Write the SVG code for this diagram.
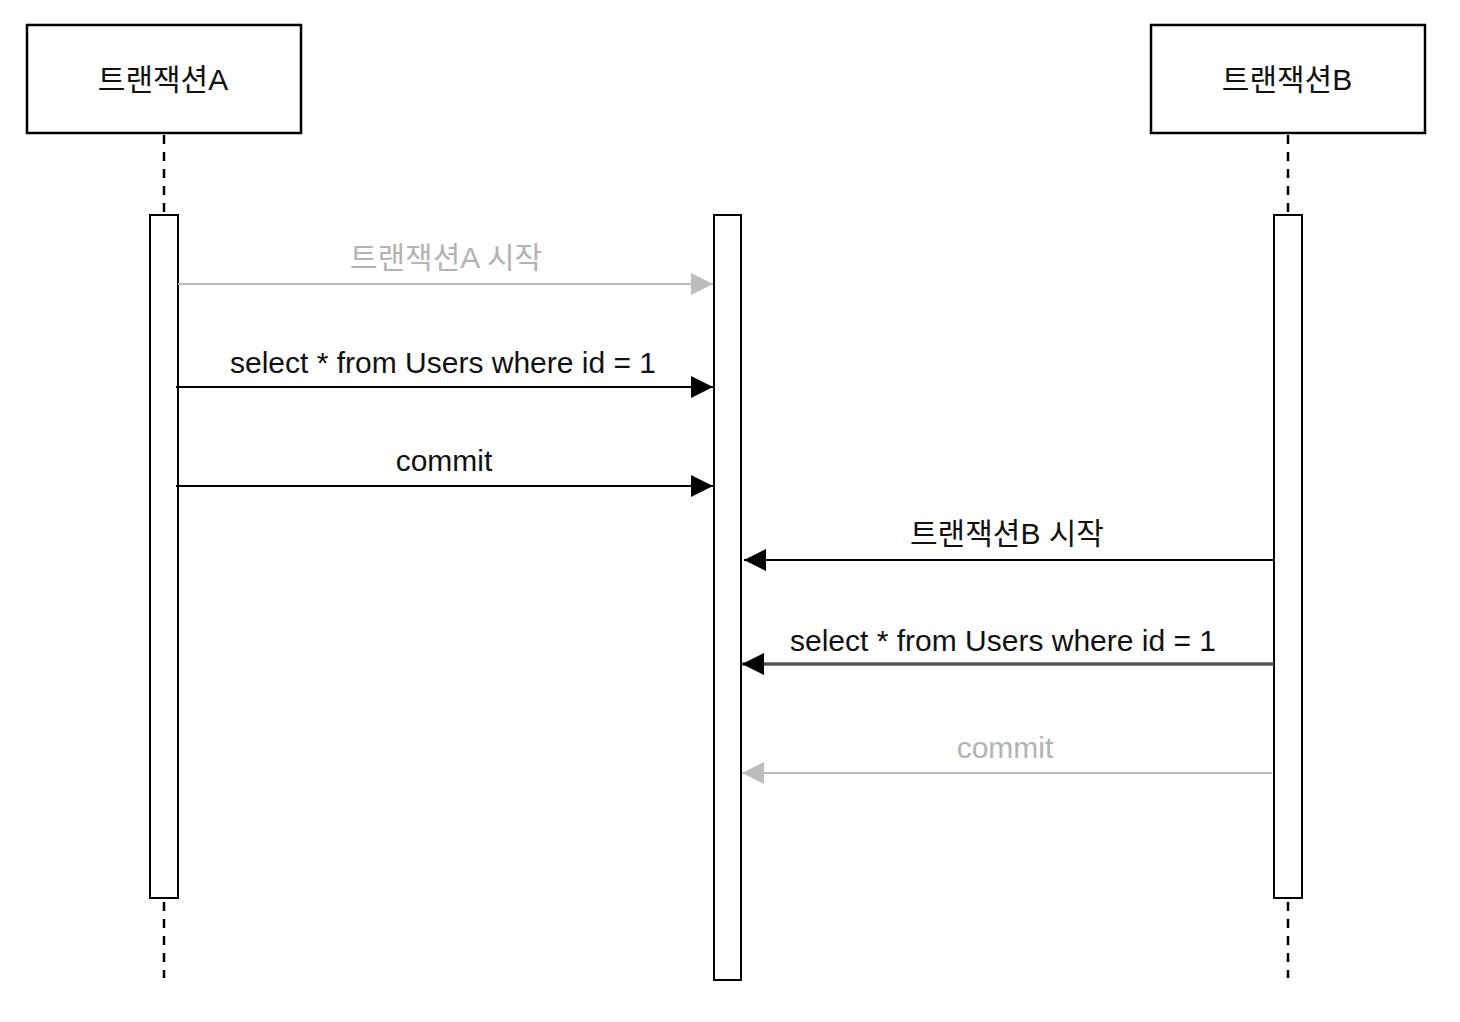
<svg xmlns="http://www.w3.org/2000/svg" width="1460" height="1022" viewBox="0 0 1460 1022">
<style>
.box{fill:#fff;stroke:#000;stroke-width:2.5}
.act{fill:#fff;stroke:#000;stroke-width:2}
.life{stroke:#000;stroke-width:2.5;stroke-dasharray:9 8;fill:none}
.t{font-family:"Liberation Sans","Noto Sans CJK KR",Arial,sans-serif;font-size:30px;text-anchor:middle;fill:#111}
.g{fill:#b3b3b3}
.msg{stroke:#000;stroke-width:2;fill:none}
.msgg{stroke:#bdbdbd;stroke-width:2;fill:none}
.msgd{stroke:#555;stroke-width:3.5;fill:none}
</style>
<defs>
<marker id="ah" viewBox="0 0 10 10" refX="10" refY="5" markerWidth="22" markerHeight="22" markerUnits="userSpaceOnUse" orient="auto"><path d="M0,0 L10,5 L0,10 z" fill="#000"/></marker>
<marker id="ahg" viewBox="0 0 10 10" refX="10" refY="5" markerWidth="22" markerHeight="22" markerUnits="userSpaceOnUse" orient="auto"><path d="M0,0 L10,5 L0,10 z" fill="#bdbdbd"/></marker>
</defs>
<rect width="1460" height="1022" fill="#fff"/>
<g id="lifelines">
<line class="life" x1="164" y1="135" x2="164" y2="214"/>
<line class="life" x1="164" y1="902" x2="164" y2="978"/>
<line class="life" x1="1288" y1="135" x2="1288" y2="214"/>
<line class="life" x1="1288" y1="902" x2="1288" y2="978"/>
</g>
<g id="txA">
<rect class="box" x="27" y="25" width="274" height="108"/>
<text class="t" x="163" y="90">트랜잭션A</text>
</g>
<g id="txB">
<rect class="box" x="1151" y="25" width="274" height="108"/>
<text class="t" x="1287" y="90">트랜잭션B</text>
</g>
<g id="actA"><rect class="act" x="150" y="215" width="28" height="683"/></g>
<g id="actMid"><rect class="act" x="714" y="215" width="27" height="765"/></g>
<g id="actB"><rect class="act" x="1274" y="215" width="28" height="683"/></g>
<g id="connectors">
<line class="msgg" x1="178" y1="284" x2="713" y2="284" marker-end="url(#ahg)"/>
<text class="t g" x="446" y="268">트랜잭션A 시작</text>
<line class="msg" x1="176" y1="387" x2="713" y2="387" marker-end="url(#ah)"/>
<text class="t" x="443" y="373">select * from Users where id = 1</text>
<line class="msg" x1="176" y1="486" x2="713" y2="486" marker-end="url(#ah)"/>
<text class="t" x="444" y="471">commit</text>
<line class="msg" x1="1274" y1="560" x2="744" y2="560" marker-end="url(#ah)"/>
<text class="t" x="1007" y="544">트랜잭션B 시작</text>
<line class="msgd" x1="1274" y1="664" x2="742" y2="664" marker-end="url(#ah)"/>
<text class="t" x="1003" y="651">select * from Users where id = 1</text>
<line class="msgg" x1="1272" y1="773" x2="742" y2="773" marker-end="url(#ahg)"/>
<text class="t g" x="1005" y="758">commit</text>
</g>
</svg>
